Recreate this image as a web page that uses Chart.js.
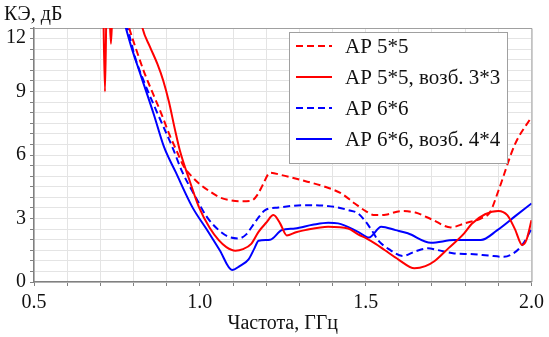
<!DOCTYPE html>
<html>
<head>
<meta charset="utf-8">
<script src="https://cdn.jsdelivr.net/npm/chart.js@4"></script>
<style>
  body { margin: 0; background: #fff; font-family: 'Liberation Serif', serif; }
  canvas { display: block; }
</style>
</head>
<body>
<canvas id="keChart" width="549" height="337"></canvas>
<script>
// series: AP 5*5 (red dashed)
const ap55Freq = [0.77, 0.787, 0.81, 0.832, 0.86, 0.882, 0.91, 0.93, 0.95, 0.975, 1.0, 1.03, 1.06, 1.09, 1.12, 1.155, 1.175, 1.19, 1.212, 1.247, 1.307, 1.377, 1.427, 1.467, 1.5, 1.527, 1.56, 1.607, 1.65, 1.7, 1.757, 1.8, 1.847, 1.875, 1.9, 1.95, 2.0];
const ap55Ke   = [13, 12, 10.9, 9.92, 8.85, 8.03, 6.9, 6.2, 5.5, 5.0, 4.62, 4.28, 4.0, 3.87, 3.82, 3.84, 4.15, 4.6, 5.16, 5.05, 4.81, 4.5, 4.18, 3.71, 3.35, 3.16, 3.18, 3.35, 3.28, 2.95, 2.58, 2.78, 3.0, 3.3, 4.3, 6.5, 7.8];

// AP 5*5, exc. 3*3 (red solid)
const ap55exFreq = [0.708, 0.714, 0.72, 0.727, 0.732, 0.737, 0.78, 0.827, 0.85, 0.872, 0.89, 0.907, 0.925, 0.94, 0.97, 0.997, 1.03, 1.057, 1.08, 1.107, 1.13, 1.155, 1.177, 1.2, 1.222, 1.242, 1.262, 1.29, 1.317, 1.387, 1.447, 1.477, 1.502, 1.53, 1.557, 1.6, 1.647, 1.68, 1.707, 1.75, 1.797, 1.82, 1.86, 1.9, 1.927, 1.95, 1.972, 1.985, 2.0];
const ap55exKe   = [14, 9.0, 14, 13, 11.26, 13, 16, 12, 11.1, 10.3, 9.5, 8.5, 7.2, 6.2, 4.75, 3.55, 2.55, 1.98, 1.65, 1.48, 1.55, 1.8, 2.37, 2.8, 3.16, 2.77, 2.2, 2.35, 2.45, 2.61, 2.53, 2.25, 2.06, 1.8, 1.51, 1.05, 0.65, 0.75, 0.98, 1.6, 2.3, 2.75, 3.2, 3.36, 3.16, 2.5, 1.75, 2.0, 2.92];

// AP 6*6 (blue dashed)
const ap66Freq = [0.76, 0.782, 0.805, 0.832, 0.87, 0.917, 0.947, 0.987, 1.02, 1.057, 1.085, 1.117, 1.14, 1.157, 1.177, 1.197, 1.237, 1.317, 1.36, 1.407, 1.447, 1.477, 1.5, 1.52, 1.537, 1.57, 1.612, 1.65, 1.687, 1.717, 1.767, 1.817, 1.87, 1.917, 1.945, 1.972, 2.0];
const ap66Ke   = [13.2, 12, 10.6, 9.45, 8.05, 6.38, 5.2, 4.02, 3.1, 2.45, 2.15, 2.06, 2.25, 2.61, 3.05, 3.4, 3.52, 3.63, 3.62, 3.55, 3.4, 3.24, 2.85, 2.4, 1.98, 1.55, 1.23, 1.45, 1.59, 1.51, 1.35, 1.32, 1.25, 1.19, 1.35, 1.75, 2.5];

// AP 6*6, exc. 4*4 (blue solid)
const ap66exFreq = [0.755, 0.777, 0.792, 0.822, 0.862, 0.892, 0.927, 0.977, 1.02, 1.06, 1.097, 1.12, 1.147, 1.165, 1.177, 1.212, 1.247, 1.287, 1.34, 1.387, 1.417, 1.477, 1.51, 1.547, 1.59, 1.627, 1.697, 1.767, 1.847, 1.897, 1.95, 2.0];
const ap66exKe   = [13.2, 12, 11.18, 9.76, 7.88, 6.38, 5.2, 3.55, 2.5, 1.5, 0.57, 0.75, 1.07, 1.6, 1.95, 2.0, 2.45, 2.53, 2.7, 2.8, 2.77, 2.37, 2.1, 2.61, 2.45, 2.3, 1.85, 1.98, 1.98, 2.45, 3.1, 3.71];

const seriesNames = ['АР 5*5', 'АР 5*5, возб. 3*3', 'АР 6*6', 'АР 6*6, возб. 4*4'];
const xTitle = 'Частота, ГГц';
const yTitle = 'КЭ, дБ';

const RED = '#ff0000';
const BLUE = '#0000ff';
const DASH = [7, 4];
const FONT = "'Liberation Serif'";

function pts(xs, ys) {
  return xs.map((x, i) => ({ x: x, y: ys[i] }));
}

function makeSet(label, xs, ys, color, dash) {
  return {
    label: label,
    data: pts(xs, ys),
    borderColor: color,
    borderWidth: 2,
    borderDash: dash,
    pointRadius: 0,
    fill: false,
    cubicInterpolationMode: 'monotone'
  };
}

// legend box, axis titles and frame
const decorPlugin = {
  id: 'decor',
  beforeDatasetsDraw(chart) {
    const a = chart.chartArea;
    const ctx = chart.ctx;
    ctx.save();
    ctx.strokeStyle = '#a0a0a0';
    ctx.lineWidth = 1;
    ctx.beginPath();
    ctx.moveTo(a.left, a.top + 0.5);
    ctx.lineTo(a.right + 0.5, a.top + 0.5);
    ctx.lineTo(a.right + 0.5, a.bottom);
    ctx.stroke();
    ctx.restore();
  },
  afterDatasetsDraw(chart) {
    const ctx = chart.ctx;
    const a = chart.chartArea;
    ctx.save();
    // legend
    ctx.fillStyle = '#fff';
    ctx.fillRect(289, 32, 218, 131);
    ctx.strokeStyle = '#a0a0a0';
    ctx.lineWidth = 1;
    ctx.strokeRect(289.5, 32.5, 218, 131);
    const rows = [46, 77, 108, 139];
    chart.data.datasets.forEach((ds, i) => {
      ctx.strokeStyle = ds.borderColor;
      ctx.lineWidth = 2;
      ctx.setLineDash(ds.borderDash || []);
      ctx.beginPath();
      ctx.moveTo(296, rows[i]);
      ctx.lineTo(332, rows[i]);
      ctx.stroke();
      ctx.setLineDash([]);
      ctx.fillStyle = '#111';
      ctx.font = '21px ' + FONT;
      ctx.textBaseline = 'middle';
      ctx.textAlign = 'left';
      ctx.fillText(ds.label, 345, rows[i] + 1);
    });
    // titles
    ctx.font = '20px ' + FONT;
    ctx.textBaseline = 'alphabetic';
    ctx.fillStyle = '#111';
    ctx.textAlign = 'left';
    ctx.fillText(yTitle, 4, 20);
    ctx.textAlign = 'center';
    ctx.fillText(xTitle, (a.left + a.right) / 2, 329);
    // top y label sits just below the frame
    const yScale = chart.scales.y;
    ctx.textAlign = 'right';
    ctx.textBaseline = 'top';
    ctx.fillText(String(yScale.max), a.left - 8, a.top);
    ctx.restore();
  }
};

function drawChart() {
  new Chart(document.getElementById('keChart'), {
    type: 'line',
    data: {
      datasets: [
        makeSet(seriesNames[0], ap55Freq, ap55Ke, RED, DASH),
        makeSet(seriesNames[1], ap55exFreq, ap55exKe, RED, []),
        makeSet(seriesNames[2], ap66Freq, ap66Ke, BLUE, DASH),
        makeSet(seriesNames[3], ap66exFreq, ap66exKe, BLUE, [])
      ]
    },
    options: {
      responsive: false,
      animation: false,
      layout: { padding: { left: 0, right: 14, top: 28, bottom: 0 } },
      plugins: {
        legend: { display: false },
        tooltip: { enabled: false }
      },
      scales: {
        x: {
          type: 'linear',
          min: 0.5,
          max: 2.0,
          afterFit: s => { s.height = 55; },
          border: { color: '#808080', width: 1.5 },
          grid: { color: '#e4e4e4', tickColor: '#808080', tickLength: 4 },
          ticks: {
            stepSize: 0.1,
            autoSkip: false,
            maxRotation: 0,
            padding: 5,
            color: '#111',
            font: { family: FONT, size: 20 },
            callback: v => (Math.round(v * 10) % 5 === 0 ? v.toFixed(1) : '')
          }
        },
        y: {
          min: 0,
          max: 12,
          afterFit: s => { s.width = 34; },
          border: { color: '#808080', width: 1.5 },
          grid: { color: '#e4e4e4', tickColor: '#808080', tickLength: 4 },
          ticks: {
            stepSize: 0.5,
            autoSkip: false,
            padding: 4,
            color: '#111',
            font: { family: FONT, size: 20 },
            callback: v => (Math.round(v * 2) % 6 === 0 && v < 12 ? String(v) : '')
          }
        }
      }
    },
    plugins: [decorPlugin]
  });
}

document.fonts.load("20px 'Liberation Serif'").then(drawChart, drawChart);
</script>
</body>
</html>
